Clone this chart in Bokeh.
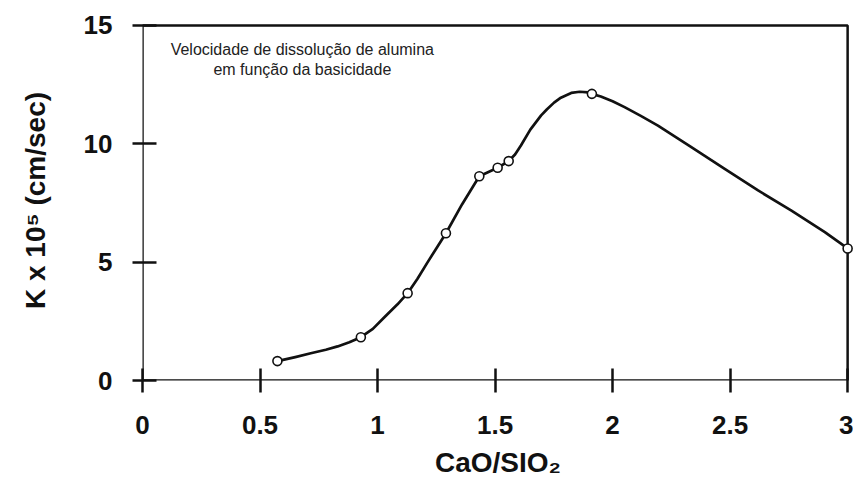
from bokeh.plotting import figure
from bokeh.models import Range1d, FixedTicker, Label
from bokeh.embed import file_html
from bokeh.resources import INLINE

# measured points (CaO/SiO2, K x 10^5)
x_pts = [0.574, 0.929, 1.128, 1.291, 1.433, 1.511, 1.558, 1.912, 3.0]
y_pts = [0.82, 1.83, 3.69, 6.22, 8.63, 8.99, 9.27, 12.11, 5.58]

# hand-drawn smooth curve
curve_x = [0.574, 0.65, 0.716, 0.78, 0.83, 0.88, 0.929, 0.98, 1.028, 1.085, 1.128,
           1.17, 1.21, 1.25, 1.291, 1.36, 1.433, 1.511, 1.558, 1.585, 1.61, 1.65,
           1.696, 1.72, 1.751, 1.78, 1.824, 1.86, 1.896, 1.912, 1.95, 2.0, 2.051,
           2.12, 2.193, 2.335, 2.477, 2.619, 2.761, 2.903, 3.0]
curve_y = [0.82, 0.99, 1.15, 1.3, 1.44, 1.62, 1.83, 2.18, 2.66, 3.22, 3.69,
           4.3, 4.95, 5.58, 6.22, 7.45, 8.63, 8.99, 9.27, 9.55, 9.93, 10.6,
           11.2, 11.45, 11.74, 11.95, 12.15, 12.2, 12.17, 12.11, 12.0, 11.8, 11.55,
           11.18, 10.77, 9.86, 8.94, 8.03, 7.18, 6.27, 5.58]

x_ticks = [0, 0.5, 1, 1.5, 2, 2.5, 3]
x_tick_labels = ["0", "0.5", "1", "1.5", "2", "2.5", "3"]
y_ticks = [0, 5, 10, 15]
y_tick_labels = ["0", "5", "10", "15"]

x_min, x_max = 0, 3
y_min, y_max = 0, 15

FONT = "Liberation Sans"
INK = "#111111"

p = figure(width=853, height=491, output_backend="svg", toolbar_location=None,
           x_range=Range1d(0, 3.025), y_range=Range1d(0, 15.21),
           min_border_left=142, min_border_right=0, min_border_top=20, min_border_bottom=111)
p.background_fill_color = "white"
p.border_fill_color = "white"
p.outline_line_color = None
p.xgrid.visible = False
p.ygrid.visible = False

# frame box
p.quad(left=[x_min], right=[x_max], bottom=[y_min], top=[y_max],
       fill_color=None, line_color=INK, line_width=2.5)

for ax in (p.xaxis[0], p.yaxis[0]):
    ax.axis_line_color = None
    ax.major_tick_line_color = INK
    ax.major_tick_line_width = 2.5
    ax.minor_tick_line_color = None
    ax.major_label_text_font = FONT
    ax.major_label_text_font_style = "bold"
    ax.major_label_text_font_size = "26px"
    ax.major_label_text_color = INK
    ax.axis_label_text_font = FONT
    ax.axis_label_text_font_style = "bold"
    ax.axis_label_text_font_size = "28px"
    ax.axis_label_text_color = INK

p.xaxis.ticker = FixedTicker(ticks=x_ticks)
p.xaxis.major_label_overrides = {t: l for t, l in zip(x_ticks, x_tick_labels)}
p.yaxis.ticker = FixedTicker(ticks=y_ticks)
p.yaxis.major_label_overrides = {t: l for t, l in zip(y_ticks, y_tick_labels)}

p.xaxis.major_tick_in = 12
p.xaxis.major_tick_out = 12
p.yaxis.major_tick_in = 14
p.yaxis.major_tick_out = 10
p.xaxis.major_label_standoff = 23
p.yaxis.major_label_standoff = 20

p.xaxis.axis_label = "CaO/SIO\u2082"
p.yaxis.axis_label = "K x 10\u2075 (cm/sec)"
p.xaxis.axis_label_standoff = 10
p.yaxis.axis_label_standoff = 30

p.line(curve_x, curve_y, line_color=INK, line_width=2.7, line_join="round")
p.scatter(x_pts, y_pts, size=9, marker="circle", fill_color="white",
          line_color=INK, line_width=1.6)

for txt, yy in (("Velocidade de dissolução de alumina", 13.97),
                ("em função da basicidade", 13.12)):
    p.add_layout(Label(x=0.68, y=yy, text=txt, text_align="center", text_baseline="middle",
                       text_font=FONT, text_font_size="16px", text_color="#222222"))

open("out.html", "w").write(file_html(p, INLINE))
